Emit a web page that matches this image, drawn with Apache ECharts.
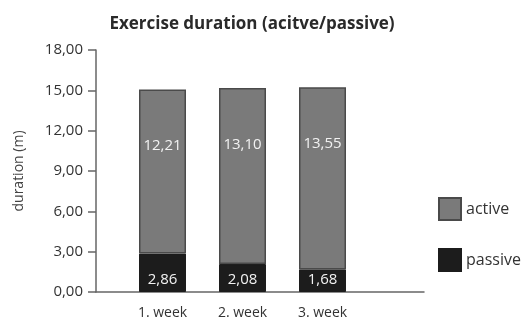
<!DOCTYPE html>
<html>
<head>
<meta charset="utf-8">
<script src="https://cdn.jsdelivr.net/npm/echarts@6/dist/echarts.min.js"></script>
<style>
html,body{margin:0;padding:0;background:#fff;}
#chart{width:523px;height:320px;}
</style>
</head>
<body>
<div id="chart"></div>
<script>
var weeks = ['1. week', '2. week', '3. week'];
var passive = [2.86, 2.08, 1.68];
var active = [12.21, 13.10, 13.55];
var yTicks = ['0,00', '3,00', '6,00', '9,00', '12,00', '15,00', '18,00'];

function komma(v){
    return v.toFixed(2).replace('.', ',');
}

var chart = echarts.init(document.getElementById('chart'));
var fonte = '"Open Sans", sans-serif';

var option = {
    animation: false,
    title: {
        text: 'Exercise duration (acitve/passive)',
        left: 247,
        textAlign: 'center',
        top: 11,
        textStyle: {fontFamily: fonte, fontSize: 17, fontWeight: 'bold', color: '#2a2a2a'}
    },
    legend: {
        data: ['active', 'passive'],
        orient: 'vertical',
        left: 433,
        top: 192,
        icon: 'rect',
        itemWidth: 22,
        itemHeight: 22,
        itemGap: 27,
        textStyle: {fontFamily: fonte, fontSize: 16, color: '#333'}
    },
    grid: [
        {left: 96, top: 50, right: 99, bottom: 28},
        {left: 122.5, top: 50, width: 240, bottom: 28}
    ],
    xAxis: [
        {
            type: 'category', gridIndex: 0, data: [''],
            axisLine: {lineStyle: {color: '#666', width: 1.5}},
            axisTick: {show: false}, axisLabel: {show: false}
        },
        {
            type: 'category', gridIndex: 1, data: weeks,
            axisLine: {show: false}, axisTick: {show: false},
            axisLabel: {margin: 14, fontFamily: fonte, fontSize: 14, color: '#333'}
        }
    ],
    yAxis: [
        {
            type: 'value', gridIndex: 0, min: 0, max: 18, interval: 3,
            name: 'duration (m)', nameLocation: 'middle', nameGap: 70, nameRotate: 90,
            nameTextStyle: {fontFamily: fonte, fontSize: 14, color: '#444'},
            axisLine: {show: true, lineStyle: {color: '#666', width: 1.5}},
            axisTick: {show: true, length: 8, lineStyle: {color: '#666', width: 1.5}},
            splitLine: {show: false},
            axisLabel: {
                margin: 13, fontFamily: fonte, fontSize: 15, color: '#333',
                formatter: function(v){ return yTicks[Math.round(v / 3)]; }
            }
        },
        {
            type: 'value', gridIndex: 1, min: 0, max: 18, interval: 3, show: false
        }
    ],
    series: [
        {
            name: 'passive', type: 'bar', stack: 'total', xAxisIndex: 1, yAxisIndex: 1,
            data: passive, barWidth: 47,
            itemStyle: {color: '#1c1c1c', borderColor: '#1c1c1c', borderWidth: 1},
            label: {
                show: true, position: 'insideBottom', distance: 5,
                fontFamily: fonte, fontSize: 15, color: '#f2f2f2',
                formatter: function(p){ return komma(p.value); }
            }
        },
        {
            name: 'active', type: 'bar', stack: 'total', xAxisIndex: 1, yAxisIndex: 1,
            data: active, barWidth: 47,
            itemStyle: {color: '#7a7a7a', borderColor: '#4a4a4a', borderWidth: 1.5},
            label: {
                show: true, position: 'insideTop', distance: 49,
                fontFamily: fonte, fontSize: 15, color: '#f2f2f2',
                formatter: function(p){ return komma(p.value); }
            }
        }
    ]
};

chart.setOption(option);
</script>
</body>
</html>
